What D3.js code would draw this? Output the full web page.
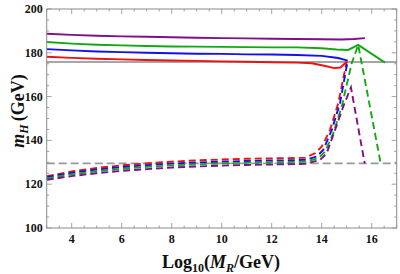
<!DOCTYPE html>
<html lang="en">
<head>
  <meta charset="UTF-8">
  <title>m_H vs Log10(M_R)</title>
  <script src="https://d3js.org/d3.v7.min.js"></script>
  <style>
    body { margin: 0; background: #fff; }
    svg { display: block; }
    text { font-family: "Liberation Serif", "DejaVu Serif", serif; font-weight: bold; fill: #111; }
  </style>
</head>
<body>
  <svg width="400" height="274"></svg>

  <script>
    // reference levels
    const topLine = 175.8;
    const higgsLine = 129.5;

    // upper (solid) curves: [log10 M_R, m_H]
    const redSolid = [[3,178.2],[4,177.7],[5,177.3],[6,177.0],[7,176.7],[8,176.5],[9,176.3],[10,176.1],[11,175.9],[12,175.7],[13,175.5],[13.6,175.2],[14.1,174.1],[14.5,173.0],[14.75,173.3],[15.0,175.9]];
    const blueSolid = [[3,181.7],[4,181.1],[5,180.6],[6,180.3],[7,180.0],[8,179.8],[9,179.6],[10,179.5],[11,179.3],[12,179.2],[13,179.0],[14,178.6],[14.66,177.6],[15.04,176.4]];
    const greenSolid = [[3,184.9],[4,184.2],[5,183.7],[6,183.4],[7,183.1],[8,182.9],[9,182.8],[10,182.7],[11,182.6],[12,182.5],[13,182.5],[14,182.1],[14.6,181.5],[15.06,181.3],[15.46,183.6],[16.53,175.5]];
    const purpleSolid = [[3,188.7],[4,188.2],[5,187.8],[6,187.5],[7,187.3],[8,187.1],[9,186.9],[10,186.7],[11,186.6],[12,186.4],[13,186.3],[14,186.2],[14.8,186.1],[15.3,186.3],[15.73,186.7]];

    // lower (dashed) curves
    const redDashed = [[3,123.7],[4,125.8],[5,127.4],[6,128.6],[7,129.5],[8,130.3],[9,130.9],[10,131.3],[11,131.6],[12,131.8],[13,132.0],[13.33,132.0],[13.73,134.1],[14.0,137.1],[14.33,144.7],[14.66,156.9],[15.0,175.9]];
    const blueDashed = [[3,123.2],[4,125.2],[5,126.7],[6,127.8],[7,128.7],[8,129.4],[9,129.9],[10,130.3],[11,130.6],[12,130.8],[13,131.0],[13.33,131.1],[13.8,132.6],[14.06,135.6],[14.4,144.7],[14.73,156.9],[15.04,176.4]];
    const greenDashed = [[3,122.6],[4,124.5],[5,125.9],[6,127.0],[7,127.9],[8,128.6],[9,129.1],[10,129.5],[11,129.8],[12,130.0],[13,130.2],[13.33,130.3],[13.86,131.8],[14.13,134.8],[14.46,143.2],[14.8,155.4],[15.2,175.2],[15.46,183.6],[16.36,129.5]];
    const purpleDashed = [[3,122.0],[4,123.7],[5,125.0],[6,126.1],[7,126.9],[8,127.6],[9,128.1],[10,128.5],[11,128.8],[12,129.0],[13,129.2],[13.33,129.3],[13.93,131.0],[14.2,134.1],[14.53,144.7],[14.86,155.4],[15.17,164.2],[15.72,129.5]];

    const xTicks = [4, 6, 8, 10, 12, 14, 16];
    const yTicks = [100, 120, 140, 160, 180, 200];

    const svg = d3.select("svg");
    const mLeft = 46.7, mRight = 396.7, mTop = 9, mBottom = 228;

    const x = d3.scaleLinear().domain([3, 17]).range([mLeft, mRight]);
    const y = d3.scaleLinear().domain([100, 200]).range([mBottom, mTop]);

    const frameColor = "#8a8a8a";

    // curves
    const line = d3.line().x(d => x(d[0])).y(d => y(d[1]));
    const series = [
      { d: redSolid, c: "#ee1111", dash: null },
      { d: blueSolid, c: "#1111ee", dash: null },
      { d: greenSolid, c: "#13a813", dash: null },
      { d: purpleSolid, c: "#7f0f86", dash: null },
      { d: redDashed, c: "#ee1111", dash: "7,4" },
      { d: blueDashed, c: "#1111ee", dash: "7,4" },
      { d: greenDashed, c: "#13a813", dash: "7,4" },
      { d: purpleDashed, c: "#7f0f86", dash: "7,4" }
    ];

    // gray reference lines
    svg.append("line")
      .attr("x1", x(3)).attr("x2", x(17))
      .attr("y1", y(topLine)).attr("y2", y(topLine))
      .attr("stroke", "#888").attr("stroke-width", 1.6);
    svg.append("line")
      .attr("x1", x(3)).attr("x2", x(17))
      .attr("y1", y(higgsLine)).attr("y2", y(higgsLine))
      .attr("stroke", "#999").attr("stroke-width", 1.6)
      .attr("stroke-dasharray", "8,4");

    svg.selectAll("path.curve")
      .data(series)
      .enter()
      .append("path")
      .attr("class", "curve")
      .attr("d", s => line(s.d))
      .attr("fill", "none")
      .attr("stroke", s => s.c)
      .attr("stroke-width", 1.9)
      .attr("stroke-dasharray", s => s.dash);

    // frame
    svg.append("rect")
      .attr("x", mLeft).attr("y", mTop)
      .attr("width", mRight - mLeft).attr("height", mBottom - mTop)
      .attr("fill", "none").attr("stroke", frameColor).attr("stroke-width", 1);

    // ticks, inward on all sides
    const xMinor = d3.range(3, 17.001, 0.5);
    const yMinor = d3.range(100, 200.001, 5);
    const g = svg.append("g").attr("stroke", frameColor).attr("stroke-width", 0.8);
    xMinor.forEach(v => {
      const len = (v % 2 === 0) ? 5 : 2.5;
      g.append("line").attr("x1", x(v)).attr("x2", x(v)).attr("y1", mBottom).attr("y2", mBottom - len);
      g.append("line").attr("x1", x(v)).attr("x2", x(v)).attr("y1", mTop).attr("y2", mTop + len);
    });
    yMinor.forEach(v => {
      const len = (v % 20 === 0) ? 5 : 2.5;
      g.append("line").attr("x1", mLeft).attr("x2", mLeft + len).attr("y1", y(v)).attr("y2", y(v));
      g.append("line").attr("x1", mRight).attr("x2", mRight - len).attr("y1", y(v)).attr("y2", y(v));
    });

    // tick labels
    svg.selectAll("text.xt")
      .data(xTicks)
      .enter()
      .append("text")
      .attr("class", "xt")
      .attr("x", d => x(d))
      .attr("y", mBottom + 15)
      .attr("text-anchor", "middle")
      .attr("font-size", "12px")
      .text(d => d);

    svg.selectAll("text.yt")
      .data(yTicks)
      .enter()
      .append("text")
      .attr("class", "yt")
      .attr("x", mLeft - 4)
      .attr("y", d => y(d) + 4)
      .attr("text-anchor", "end")
      .attr("font-size", "12px")
      .text(d => d);

    // axis titles
    const xl = svg.append("text")
      .attr("x", 221).attr("y", 268)
      .attr("text-anchor", "middle")
      .attr("font-size", "18px");
    xl.append("tspan").text("Log");
    xl.append("tspan").attr("font-size", "12px").attr("dy", 4).text("10");
    xl.append("tspan").attr("dy", -4).text("(");
    xl.append("tspan").attr("font-style", "italic").text("M");
    xl.append("tspan").attr("font-style", "italic").attr("font-size", "12px").attr("dy", 4).text("R");
    xl.append("tspan").attr("dy", -4).text("/GeV)");

    const yl = svg.append("text")
      .attr("transform", "translate(24,111) rotate(-90)")
      .attr("text-anchor", "middle")
      .attr("font-size", "18px");
    yl.append("tspan").attr("font-style", "italic").text("m");
    yl.append("tspan").attr("font-style", "italic").attr("font-size", "12px").attr("dy", 4).text("H");
    yl.append("tspan").attr("dy", -4).attr("dx", 3).text("(GeV)");
  </script>
</body>
</html>
